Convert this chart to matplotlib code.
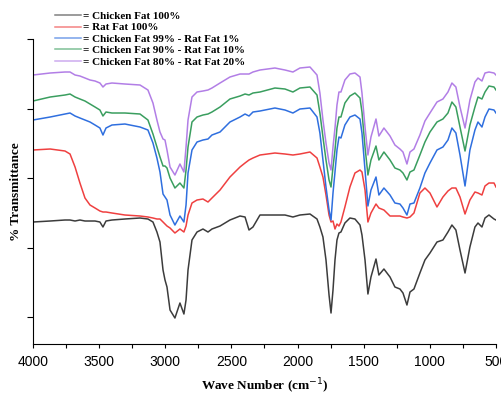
import numpy as np
import matplotlib
matplotlib.use("Agg")
import matplotlib.pyplot as plt
from matplotlib.ticker import MultipleLocator

# wave numbers (cm-1) shared by all spectra
wn = [4000, 3870, 3758, 3720, 3682, 3645, 3607, 3569, 3531, 3494,
      3471, 3448, 3403, 3305, 3191, 3131, 3093, 3063, 3040, 3017,
      3002, 2987, 2964, 2927, 2889, 2859, 2843, 2828, 2798, 2760,
      2715, 2677, 2647, 2586, 2511, 2435, 2397, 2367, 2337, 2284,
      2171, 2095, 2035, 1982, 1906, 1853, 1831, 1808, 1785, 1762,
      1747, 1732, 1717, 1702, 1687, 1672, 1642, 1604, 1566, 1528,
      1513, 1490, 1468, 1445, 1407, 1385, 1347, 1301, 1264, 1226,
      1203, 1173, 1150, 1120, 1075, 1037, 999, 946, 901, 863,
      833, 803, 772, 734, 697, 659, 636, 606, 583, 553,
      515, 500]

# transmittance, arbitrary units (curves are offset)
chicken100 = [122, 123, 124, 124, 123, 124, 123, 123, 123, 122,
              117, 123, 124, 125, 126, 125, 122, 112, 102, 74,
              64, 57, 34, 26, 41, 30, 44, 74, 104, 112,
              115, 112, 115, 118, 124, 128, 127, 114, 117, 129,
              129, 129, 127, 129, 130, 125, 117, 107, 84, 49,
              31, 54, 84, 104, 111, 112, 121, 126, 125, 119,
              109, 84, 50, 67, 85, 69, 75, 67, 57, 55,
              51, 39, 52, 55, 71, 84, 91, 102, 104, 112,
              119, 114, 94, 71, 97, 117, 121, 117, 126, 129,
              125, 124]
rat100 = [194, 195, 193, 190, 177, 161, 146, 139, 136, 133,
          132, 132, 131, 129, 128, 127, 126, 125, 125, 122,
          120, 118, 116, 111, 115, 112, 118, 129, 141, 144,
          145, 142, 146, 154, 167, 177, 181, 184, 186, 189,
          191, 190, 189, 190, 192, 186, 177, 167, 149, 129,
          122, 123, 115, 120, 118, 122, 137, 157, 171, 174,
          172, 154, 122, 131, 140, 136, 134, 128, 128, 128,
          127, 126, 127, 131, 151, 156, 151, 137, 147, 153,
          156, 156, 147, 130, 144, 152, 151, 149, 158, 161,
          161, 157]
mix99_1 = [224, 227, 230, 231, 228, 226, 224, 222, 219, 216,
           209, 216, 219, 220, 217, 214, 201, 186, 172, 150,
           147, 144, 129, 119, 128, 122, 139, 171, 194, 202,
           204, 205, 209, 212, 222, 227, 230, 228, 232, 233,
           236, 234, 231, 235, 236, 227, 211, 184, 157, 134,
           124, 151, 172, 194, 207, 206, 219, 227, 229, 225,
           211, 174, 138, 154, 167, 149, 156, 149, 141, 140,
           136, 129, 140, 141, 156, 171, 181, 194, 197, 204,
           216, 211, 189, 158, 194, 214, 222, 217, 227, 235,
           234, 231]
mix90_10 = [243, 247, 249, 250, 247, 245, 243, 240, 237, 234,
            228, 232, 231, 231, 230, 224, 210, 197, 187, 178,
            178, 176, 166, 156, 161, 156, 174, 197, 222, 227,
            229, 230, 232, 237, 245, 248, 250, 249, 251, 252,
            256, 255, 252, 256, 257, 249, 231, 207, 184, 164,
            157, 177, 194, 216, 227, 227, 241, 248, 251, 246,
            232, 197, 169, 184, 198, 184, 192, 184, 176, 174,
            171, 164, 172, 174, 189, 202, 212, 222, 225, 231,
            242, 237, 217, 193, 219, 237, 247, 245, 252, 258,
            257, 254]
mix80_20 = [269, 271, 272, 272, 269, 268, 266, 264, 263, 261,
            257, 260, 261, 260, 259, 254, 241, 224, 212, 205,
            204, 194, 177, 169, 180, 172, 197, 224, 247, 252,
            253, 254, 256, 261, 267, 270, 270, 270, 272, 274,
            276, 274, 272, 276, 277, 269, 251, 224, 201, 181,
            174, 197, 216, 239, 252, 252, 264, 270, 271, 267,
            251, 217, 189, 207, 225, 208, 216, 208, 199, 195,
            192, 180, 192, 195, 209, 223, 231, 242, 245, 252,
            261, 257, 237, 216, 244, 262, 266, 263, 271, 272,
            271, 269]

labels = ["= Chicken Fat 100%", "= Rat Fat 100%",
          "= Chicken Fat 99% - Rat Fat 1%",
          "= Chicken Fat 90% - Rat Fat 10%",
          "= Chicken Fat 80% - Rat Fat 20%"]
colors = ["#3c3c3c", "#ef4040", "#2f6fdf", "#3a9e5f", "#b27ee6"]
series = [chicken100, rat100, mix99_1, mix90_10, mix80_20]

fig = plt.figure(figsize=(5.02, 3.96), dpi=100)
ax = fig.add_axes([0.0657, 0.1313, 0.9223, 0.7702])

for y, c, lab in zip(series, colors, labels):
    ax.plot(wn, y, color=c, lw=1.1, label=lab)

ax.set_xlim(4000, 500)
ax.set_ylim(0, 305)
ax.xaxis.set_major_locator(MultipleLocator(500))
ax.xaxis.set_minor_locator(MultipleLocator(250))
ax.set_yticks([27, 96.5, 166, 235.5, 305])
ax.set_yticklabels([])
ax.spines["top"].set_visible(False)
ax.spines["right"].set_visible(False)
ax.tick_params(axis="x", which="both", direction="out", length=3, width=0.8,
               labelsize=10, pad=5)
ax.tick_params(axis="y", direction="out", length=4.5, width=0.8)
for t in ax.get_xticklabels():
    t.set_fontfamily("Liberation Sans")

ax.set_xlabel("Wave Number (cm$^{-1}$)", fontfamily="Liberation Serif",
              fontweight="bold", fontsize=9.5, labelpad=5.5)
ax.set_ylabel("% Transmittance", fontfamily="Liberation Serif",
              fontweight="bold", fontsize=9.5, labelpad=0)

leg = ax.legend(loc="upper left", bbox_to_anchor=(0.09, 0.997),
                bbox_transform=fig.transFigure, frameon=False,
                handlelength=2.3, handletextpad=0.2, labelspacing=0.15,
                prop={"family": "Liberation Serif", "weight": "bold", "size": 8})
for h in leg.get_lines():
    h.set_alpha(0.65)

fig.savefig("out.png", dpi=100)
